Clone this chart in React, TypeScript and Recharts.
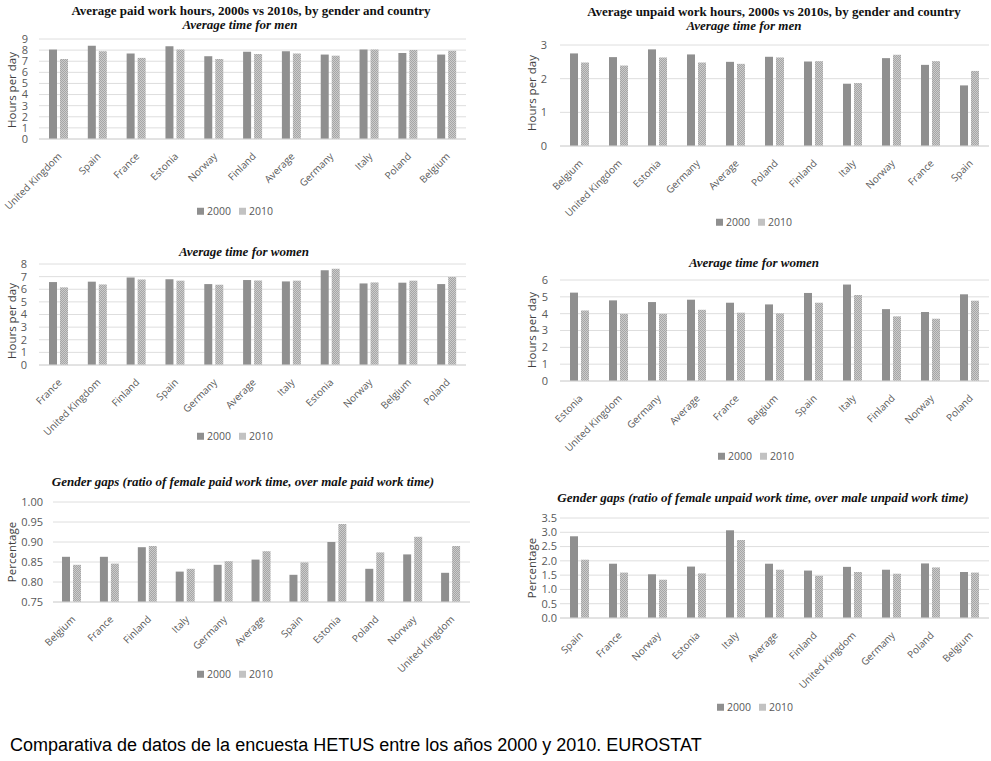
import React from "react";
import { BarChart, Bar, XAxis, YAxis, CartesianGrid } from "recharts";

// values (hours per day / ratios)
const paidMenCountries = ["United Kingdom", "Spain", "France", "Estonia", "Norway", "Finland", "Average", "Germany", "Italy", "Poland", "Belgium"];
const paidMen2000 = [8.05, 8.4, 7.7, 8.35, 7.45, 7.85, 7.9, 7.6, 8.05, 7.75, 7.6];
const paidMen2010 = [7.2, 7.9, 7.3, 8.05, 7.2, 7.65, 7.7, 7.5, 8.05, 8.0, 7.95];

const unpaidMenCountries = ["Belgium", "United Kingdom", "Estonia", "Germany", "Average", "Poland", "Finland", "Italy", "Norway", "France", "Spain"];
const unpaidMen2000 = [2.75, 2.64, 2.87, 2.72, 2.5, 2.65, 2.51, 1.85, 2.61, 2.41, 1.8];
const unpaidMen2010 = [2.48, 2.39, 2.63, 2.48, 2.44, 2.63, 2.52, 1.87, 2.71, 2.52, 2.23];

const paidWomenCountries = ["France", "United Kingdom", "Finland", "Spain", "Germany", "Average", "Italy", "Estonia", "Norway", "Belgium", "Poland"];
const paidWomen2000 = [6.57, 6.6, 6.94, 6.8, 6.41, 6.73, 6.62, 7.5, 6.46, 6.52, 6.41];
const paidWomen2010 = [6.15, 6.38, 6.78, 6.68, 6.36, 6.7, 6.68, 7.63, 6.54, 6.68, 6.97];

const unpaidWomenCountries = ["Estonia", "United Kingdom", "Germany", "Average", "France", "Belgium", "Spain", "Italy", "Finland", "Norway", "Poland"];
const unpaidWomen2000 = [5.25, 4.79, 4.69, 4.83, 4.65, 4.55, 5.23, 5.73, 4.27, 4.1, 5.15];
const unpaidWomen2010 = [4.19, 3.99, 3.99, 4.23, 4.06, 4.02, 4.65, 5.11, 3.84, 3.7, 4.77];

const paidGapCountries = ["Belgium", "France", "Finland", "Italy", "Germany", "Average", "Spain", "Estonia", "Poland", "Norway", "United Kingdom"];
const paidGap2000 = [0.863, 0.863, 0.887, 0.826, 0.843, 0.856, 0.818, 0.9, 0.833, 0.869, 0.823];
const paidGap2010 = [0.843, 0.846, 0.89, 0.833, 0.852, 0.877, 0.849, 0.945, 0.874, 0.913, 0.89];

const unpaidGapCountries = ["Spain", "France", "Norway", "Estonia", "Italy", "Average", "Finland", "United Kingdom", "Germany", "Poland", "Belgium"];
const unpaidGap2000 = [2.86, 1.9, 1.53, 1.8, 3.07, 1.9, 1.66, 1.79, 1.69, 1.91, 1.61];
const unpaidGap2010 = [2.04, 1.59, 1.34, 1.56, 2.73, 1.69, 1.48, 1.61, 1.55, 1.77, 1.59];

const hoursTicks9 = [0, 1, 2, 3, 4, 5, 6, 7, 8, 9];
const hoursTicks3 = [0, 1, 2, 3];
const hoursTicks8 = [0, 1, 2, 3, 4, 5, 6, 7, 8];
const hoursTicks6 = [0, 1, 2, 3, 4, 5, 6];
const paidGapTicks = [0.75, 0.8, 0.85, 0.9, 0.95, 1.0];
const unpaidGapTicks = [0, 0.5, 1, 1.5, 2, 2.5, 3, 3.5];

const SANS = "'Open Sans', 'Noto Sans', sans-serif";
const SERIF = "'Liberation Serif', 'DejaVu Serif', serif";
const DARK = "#8f8f8f";

const rows = (cats: string[], a: number[], b: number[]) =>
  cats.map((c, i) => ({ country: c, y2000: a[i], y2010: b[i] }));

// excel-style rotated category label, top-right corner hanging under the tick
const AngledTick = (props: any) => {
  const { x, y, payload } = props;
  const px = x + 4;
  const py = y + 18;
  return (
    <text x={px} y={py} transform={`rotate(-45 ${px} ${py})`} textAnchor="end" fill="#595959" fontSize={10} fontFamily={SANS}>
      {payload.value}
    </text>
  );
};

type PanelProps = {
  id: string;
  data: any[];
  domain: [number, number];
  ticks: number[];
  fmt: (v: number) => string;
  x0: number; x1: number; y0: number; y1: number;
  gap: number;
};

function Panel({ id, data, domain, ticks, fmt, x0, x1, y0, y1, gap }: PanelProps) {
  const yw = 40;
  const xh = 100;
  const mt = 10;
  const left = x0 - yw;
  const top = y0 - mt;
  return (
    <div style={{ position: "absolute", left, top }}>
      <BarChart
        width={x1 - left}
        height={y1 - top + xh}
        data={data}
        margin={{ top: mt, right: 0, left: 0, bottom: 0 }}
        barSize={8}
        barGap={3}
      >
        <defs>
          <pattern id={id} width="2" height="2" patternUnits="userSpaceOnUse">
            <rect width="2" height="2" fill="#cbcbcb" />
            <rect width="1" height="1" fill="#a6a6a6" />
            <rect x="1" y="1" width="1" height="1" fill="#a6a6a6" />
          </pattern>
        </defs>
        <CartesianGrid vertical={false} stroke="#dedede" />
        <XAxis
          dataKey="country"
          interval={0}
          tickLine={false}
          axisLine={{ stroke: "#d6d6d6" }}
          tickSize={0}
          tickMargin={0}
          height={xh}
          tick={<AngledTick />}
        />
        <YAxis
          width={yw}
          domain={domain}
          ticks={ticks}
          interval={0}
          tickFormatter={fmt}
          axisLine={false}
          tickLine={false}
          tickSize={0}
          tickMargin={gap}
          tick={{ fill: "#595959", fontSize: 11, fontFamily: SANS }}
        />
        <Bar dataKey="y2000" fill={DARK} isAnimationActive={false} />
        <Bar dataKey="y2010" fill={`url(#${id})`} isAnimationActive={false} />
      </BarChart>
    </div>
  );
}

function Label({ x, y, text, style }: { x: number; y: number; text: string; style: React.CSSProperties }) {
  return (
    <div style={{ position: "absolute", left: x, top: y, transform: "translate(-50%, -50%)", whiteSpace: "nowrap", lineHeight: 1, ...style }}>
      {text}
    </div>
  );
}

function YLabel({ x, y, text }: { x: number; y: number; text: string }) {
  return (
    <div style={{ position: "absolute", left: x, top: y, transform: "translate(-50%, -50%) rotate(-90deg)", whiteSpace: "nowrap", lineHeight: 1, fontFamily: SANS, fontSize: 11.5, color: "#404040" }}>
      {text}
    </div>
  );
}

function Legend({ x, y }: { x: number; y: number }) {
  const item = (color: string, text: string) => (
    <span style={{ display: "inline-flex", alignItems: "center", marginRight: 8 }}>
      <span style={{ width: 7, height: 7, background: color, marginRight: 3, display: "inline-block" }} />
      {text}
    </span>
  );
  return (
    <div style={{ position: "absolute", left: x, top: y, transform: "translateY(-50%)", whiteSpace: "nowrap", lineHeight: 1, fontFamily: SANS, fontSize: 10.5, color: "#595959", display: "flex" }}>
      {item(DARK, "2000")}
      {item("#c2c2c2", "2010")}
    </div>
  );
}

const titleStyle: React.CSSProperties = { fontFamily: SERIF, fontWeight: "bold", fontSize: 13, color: "#111" };
const subStyle: React.CSSProperties = { fontFamily: SERIF, fontWeight: "bold", fontStyle: "italic", fontSize: 13, color: "#111" };

const hourFmt = (v: number) => String(v);

export default function App() {
  return (
    <div style={{ position: "absolute", left: 0, top: 0, width: 991, height: 761, background: "#fff", overflow: "hidden" }}>
      <Label x={251} y={10} text="Average paid work hours, 2000s vs 2010s, by gender and country" style={titleStyle} />
      <Label x={240} y={24} text="Average time for men" style={subStyle} />
      <YLabel x={12} y={90} text="Hours per day" />
      <Panel id="p1" data={rows(paidMenCountries, paidMen2000, paidMen2010)} domain={[0, 9]} ticks={hoursTicks9} fmt={hourFmt} x0={39} x1={466} y0={39} y1={139} gap={11} />
      <Legend x={197} y={211} />

      <Label x={774} y={11} text="Average unpaid work hours, 2000s vs 2010s, by gender and country" style={titleStyle} />
      <Label x={744} y={25} text="Average time for men" style={subStyle} />
      <YLabel x={532} y={93} text="Hours per day" />
      <Panel id="p2" data={rows(unpaidMenCountries, unpaidMen2000, unpaidMen2010)} domain={[0, 3]} ticks={hoursTicks3} fmt={hourFmt} x0={560} x1={989} y0={45} y1={146} gap={13} />
      <Legend x={716} y={222} />

      <Label x={244} y={251} text="Average time for women" style={subStyle} />
      <YLabel x={12} y={321} text="Hours per day" />
      <Panel id="p3" data={rows(paidWomenCountries, paidWomen2000, paidWomen2010)} domain={[0, 8]} ticks={hoursTicks8} fmt={hourFmt} x0={39} x1={466} y0={264} y1={365} gap={12} />
      <Legend x={197} y={436} />

      <Label x={754} y={262} text="Average time for women" style={subStyle} />
      <YLabel x={532} y={330} text="Hours per day" />
      <Panel id="p4" data={rows(unpaidWomenCountries, unpaidWomen2000, unpaidWomen2010)} domain={[0, 6]} ticks={hoursTicks6} fmt={hourFmt} x0={560} x1={989} y0={280} y1={381} gap={12} />
      <Legend x={718} y={456} />

      <Label x={243} y={481} text="Gender gaps (ratio of female paid work time, over male paid work time)" style={subStyle} />
      <YLabel x={12} y={552} text="Percentage" />
      <Panel id="p5" data={rows(paidGapCountries, paidGap2000, paidGap2010)} domain={[0.75, 1]} ticks={paidGapTicks} fmt={(v) => v.toFixed(2)} x0={53} x1={470} y0={502} y1={602} gap={10} />
      <Legend x={197} y={674} />

      <Label x={763} y={497} text="Gender gaps (ratio of female unpaid work time, over male unpaid work time)" style={subStyle} />
      <YLabel x={532} y={568} text="Percentage" />
      <Panel id="p6" data={rows(unpaidGapCountries, unpaidGap2000, unpaidGap2010)} domain={[0, 3.5]} ticks={unpaidGapTicks} fmt={(v) => v.toFixed(1)} x0={560} x1={989} y0={518} y1={618} gap={3} />
      <Legend x={717} y={707} />

      <div style={{ position: "absolute", left: 10, top: 745, transform: "translateY(-50%)", fontFamily: "'Liberation Sans', Arial, sans-serif", fontSize: 18, color: "#000", whiteSpace: "nowrap", lineHeight: 1 }}>
        Comparativa de datos de la encuesta HETUS entre los años 2000 y 2010. EUROSTAT
      </div>
    </div>
  );
}
